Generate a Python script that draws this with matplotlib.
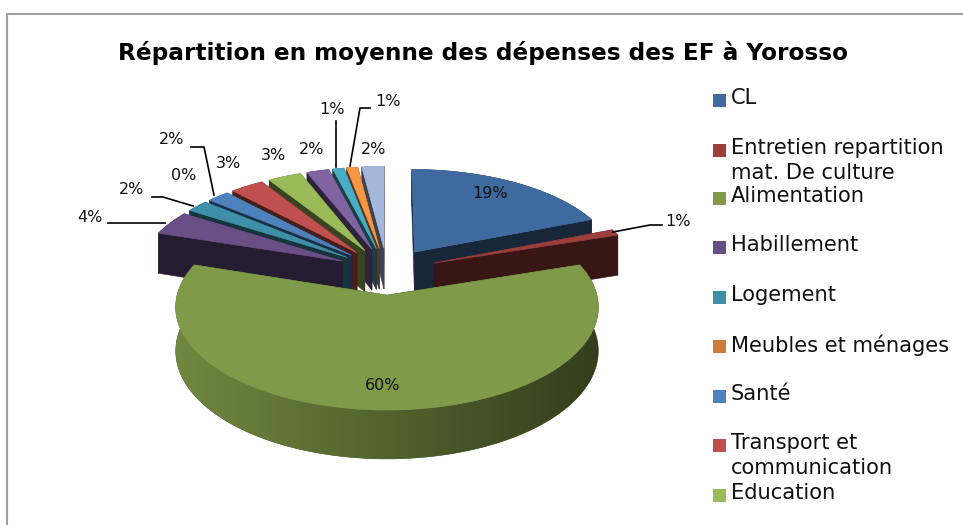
import numpy as np
import matplotlib
matplotlib.use("Agg")
import matplotlib.pyplot as plt
from matplotlib.patches import Polygon, Rectangle

# =============================
# DATA
# =============================
TITLE = "Répartition en moyenne des dépenses des EF à Yorosso"

VALUES = [19, 1, 60, 4, 2, 0, 2, 3, 3, 2, 1, 1, 2]

LEGEND_LABELS = [
    "CL",
    "Entretien repartition\nmat. De culture",
    "Alimentation",
    "Habillement",
    "Logement",
    "Meubles et ménages",
    "Santé",
    "Transport et\ncommunication",
    "Education",
]

COLORS = [
    "#3f6a9f", "#9c3e3c", "#7f9a48", "#6a4f87", "#3d90a8", "#cc7d3a",
    "#4f81bd", "#c0504d", "#9bbb59", "#8064a2", "#4bacc6", "#f79646",
    "#a5b8dc",
]

# =============================
# CONFIG (pixels of the 963x525 picture)
# =============================
CX, CY = 387, 271
RADIUS = 204
EXPLODE = 50
FOCAL = 1800
SQUASH = 0.47
DEPTH = 42

LABEL_POS = [
    (490, 194), (678, 221), (383, 386), (90, 218), (132, 189), (184, 176),
    (172, 139), (228, 163), (273, 156), (312, 149), (332, 110), (388, 102),
    (374, 149),
]

LEADERS = [
    [(613, 232), (650, 225), (662, 225)],
    [(108, 223), (165, 223)],
    [(152, 197), (163, 197), (193, 206)],
    [(191, 147), (204, 147), (214, 195)],
    [(336, 121), (336, 167)],
    [(370, 108), (360, 108), (350, 166)],
]

LEGEND_Y = [100, 150, 198, 247, 297, 346, 396, 445, 495]
LEGEND_X = 713
LEGEND_BOX = 13


def project(x, y, z=0.0):
    # simple perspective: y is depth on the pie plane, z is height
    s = FOCAL / (FOCAL + y)
    return CX + x * s, CY - y * SQUASH * s - z * s


def shade(color, factor):
    rgb = np.array(matplotlib.colors.to_rgb(color))
    return tuple(rgb * factor)


def draw_slice(ax, theta0, theta1, color):
    mid = (theta0 + theta1) / 2
    ox = EXPLODE * np.sin(mid)
    oy = EXPLODE * np.cos(mid)
    n = max(2, int(np.degrees(theta1 - theta0)) * 2)
    angles = np.linspace(theta0, theta1, n)
    xs = ox + RADIUS * np.sin(angles)
    ys = oy + RADIUS * np.cos(angles)

    # outer wall, one shape with a left to right gradient clipped into it
    wall = [project(x, y, 0) for x, y in zip(xs, ys)]
    wall += [project(x, y, -DEPTH) for x, y in zip(xs[::-1], ys[::-1])]
    wall_patch = Polygon(wall, closed=True, facecolor=shade(color, 0.6),
                         edgecolor=shade(color, 0.6), linewidth=0.4)
    ax.add_patch(wall_patch)
    if theta1 - theta0 > np.pi:
        wall_xy = np.array(wall)
        x0, x1 = wall_xy[:, 0].min(), wall_xy[:, 0].max()
        y0, y1 = wall_xy[:, 1].min(), wall_xy[:, 1].max()
        factors = np.linspace(0.88, 0.40, 256)
        rgb = np.array(matplotlib.colors.to_rgb(color))
        grad = (factors[:, None] * rgb)[None, :, :]
        im = ax.imshow(grad, extent=(x0, x1, y1, y0), aspect="auto", zorder=1,
                       interpolation="bilinear")
        im.set_clip_path(wall_patch)

    # radial walls
    for x_end, y_end in [(xs[0], ys[0]), (xs[-1], ys[-1])]:
        quad = [
            project(ox, oy, 0),
            project(x_end, y_end, 0),
            project(x_end, y_end, -DEPTH),
            project(ox, oy, -DEPTH),
        ]
        ax.add_patch(Polygon(quad, closed=True, facecolor=shade(color, 0.36),
                             edgecolor=shade(color, 0.36), linewidth=0.4))

    # top surface
    top = [project(ox, oy, 0)] + [project(x, y, 0) for x, y in zip(xs, ys)]
    ax.add_patch(Polygon(top, closed=True, facecolor=color, edgecolor=color, linewidth=0.5))


def main():
    fig = plt.figure(figsize=(9.63, 5.25), dpi=100)
    ax = fig.add_axes([0, 0, 1, 1])
    ax.axis("off")

    # frame
    ax.plot([7, 7, 963], [525, 14, 14], color="#a0a0a0", linewidth=1.5)

    ax.text(483, 53, TITLE, ha="center", va="center", fontsize=16.7,
            fontweight="bold", color="black")

    # slices, back ones first
    values = np.array(VALUES, dtype=float)
    edges = np.concatenate([[0], np.cumsum(values)]) / values.sum() * 2 * np.pi
    order = np.argsort(-np.cos((edges[:-1] + edges[1:]) / 2))
    for i in order:
        if values[i] > 0:
            draw_slice(ax, edges[i], edges[i + 1], COLORS[i])

    # leaders and labels
    for pts in LEADERS:
        ax.plot([p[0] for p in pts], [p[1] for p in pts], color="black", linewidth=1.2)

    for value, (x, y) in zip(VALUES, LABEL_POS):
        ax.text(x, y, f"{value}%", ha="center", va="center", fontsize=11.5, color="#111111")

    # legend
    for label, y, color in zip(LEGEND_LABELS, LEGEND_Y, COLORS):
        ax.add_patch(Rectangle((LEGEND_X, y - LEGEND_BOX / 2), LEGEND_BOX, LEGEND_BOX,
                               facecolor=color, edgecolor="none"))
        ax.text(731, y - 12, label, ha="left", va="top", fontsize=15.1,
                linespacing=1.33, color="#111111")

    ax.set_xlim(0, 963)
    ax.set_ylim(525, 0)

    fig.savefig("out.png", dpi=100)
    plt.close(fig)


if __name__ == "__main__":
    main()
